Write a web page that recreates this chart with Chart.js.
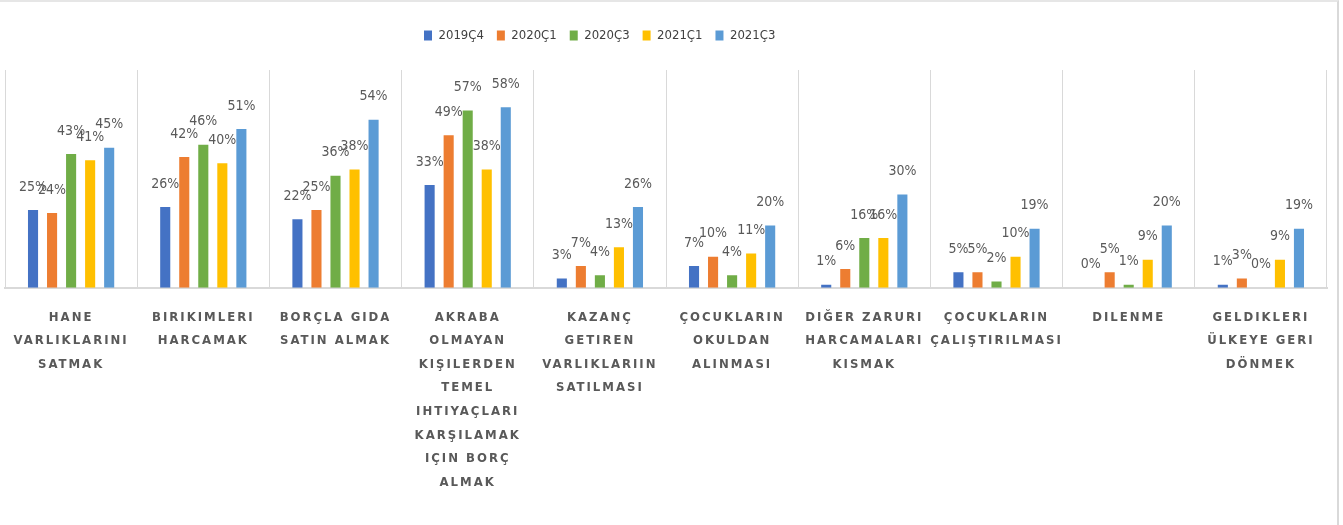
<!DOCTYPE html>
<html>
<head>
<meta charset="utf-8">
<script src="https://cdn.jsdelivr.net/npm/chart.js@4"></script>
<style>
  html, body { margin: 0; padding: 0; background: #fff; }
  #wrap {
    width: 1337px;
    height: 523px;
    border-top: 2px solid #e6e6e6;
    border-right: 2px solid #d9d9d9;
    position: relative;
  }
</style>
</head>
<body>
<div id="wrap"><canvas id="chart"></canvas></div>
<script>
const categories = [
  ['HANE', 'VARLIKLARINI', 'SATMAK'],
  ['BIRIKIMLERI', 'HARCAMAK'],
  ['BORÇLA GIDA', 'SATIN ALMAK'],
  ['AKRABA', 'OLMAYAN', 'KIŞILERDEN', 'TEMEL', 'IHTIYAÇLARI', 'KARŞILAMAK', 'IÇIN BORÇ', 'ALMAK'],
  ['KAZANÇ', 'GETIREN', 'VARLIKLARIIN', 'SATILMASI'],
  ['ÇOCUKLARIN', 'OKULDAN', 'ALINMASI'],
  ['DIĞER ZARURI', 'HARCAMALARI', 'KISMAK'],
  ['ÇOCUKLARIN', 'ÇALIŞTIRILMASI'],
  ['DILENME'],
  ['GELDIKLERI', 'ÜLKEYE GERI', 'DÖNMEK']
];

const seriesNames = ['2019Ç4', '2020Ç1', '2020Ç3', '2021Ç1', '2021Ç3'];

const values2019Q4 = [25, 26, 22, 33, 3, 7, 1, 5, 0, 1];
const values2020Q1 = [24, 42, 25, 49, 7, 10, 6, 5, 5, 3];
const values2020Q3 = [43, 46, 36, 57, 4, 4, 16, 2, 1, 0];
const values2021Q1 = [41, 40, 38, 38, 13, 11, 16, 10, 9, 9];
const values2021Q3 = [45, 51, 54, 58, 26, 20, 30, 19, 20, 19];

const seriesColors = ['#4472C4', '#ED7D31', '#70AD47', '#FFC000', '#5B9BD5'];

const narrowFont = '"DejaVu Sans Condensed", "Liberation Sans Narrow", "Liberation Sans", sans-serif';

// category axis with spaced-out letters like the original
class SpacedCategoryScale extends Chart.CategoryScale {
  drawLabels(chartArea) {
    const ctx = this.ctx;
    ctx.save();
    ctx.letterSpacing = '2px';
    super.drawLabels(chartArea);
    ctx.restore();
  }
}
SpacedCategoryScale.id = 'spacedCategory';
SpacedCategoryScale.defaults = Chart.CategoryScale.defaults;
Chart.register(SpacedCategoryScale);

const valueLabels = {
  id: 'valueLabels',
  afterDatasetsDraw(chart) {
    const ctx = chart.ctx;
    ctx.save();
    ctx.font = '14px ' + narrowFont;
    ctx.fillStyle = '#595959';
    ctx.textAlign = 'center';
    ctx.textBaseline = 'middle';
    chart.data.datasets.forEach((ds, i) => {
      chart.getDatasetMeta(i).data.forEach((bar, j) => {
        ctx.fillText(ds.data[j] + '%', bar.x, bar.y - 23);
      });
    });
    ctx.restore();
  }
};

// legend sits left of centre and leaves a gap above the plot
const legendShift = {
  id: 'legendShift',
  beforeLayout(chart) {
    const lg = chart.legend;
    if (lg && !lg._patched) {
      const fit = lg.fit;
      lg.fit = function () {
        fit.call(this);
        this.height = 54;
      };
      lg._patched = true;
    }
  },
  afterLayout(chart) {
    const lg = chart.legend;
    const w = lg.right - lg.left;
    lg.left = 411;
    lg.right = 411 + w;
  }
};

const allValues = [values2019Q4, values2020Q1, values2020Q3, values2021Q1, values2021Q3];

new Chart(document.getElementById('chart'), {
  type: 'bar',
  data: {
    labels: categories,
    datasets: seriesNames.map((name, i) => ({
      label: name,
      data: allValues[i],
      backgroundColor: seriesColors[i],
      categoryPercentage: 0.72,
      barPercentage: 0.53
    }))
  },
  options: {
    responsive: true,
    maintainAspectRatio: false,
    animation: false,
    layout: { padding: { top: 14, left: 5, right: 10, bottom: 13 } },
    plugins: {
      legend: {
        position: 'top',
        align: 'start',
        labels: {
          boxWidth: 8,
          boxHeight: 10,
          padding: 13,
          color: '#404040',
          font: { family: narrowFont, size: 13 }
        }
      },
      tooltip: { enabled: false }
    },
    scales: {
      x: {
        type: 'spacedCategory',
        offset: true,
        grid: { display: true, offset: true, color: '#d9d9d9', drawTicks: false },
        border: { color: '#d9d9d9', width: 2 },
        ticks: {
          color: '#595959',
          padding: 18,
          maxRotation: 0,
          autoSkip: false,
          font: { family: narrowFont, size: 13, weight: 'bold', lineHeight: 1.81 }
        }
      },
      y: {
        display: false,
        min: 0,
        max: 70
      }
    }
  },
  plugins: [valueLabels, legendShift]
});
</script>
</body>
</html>
